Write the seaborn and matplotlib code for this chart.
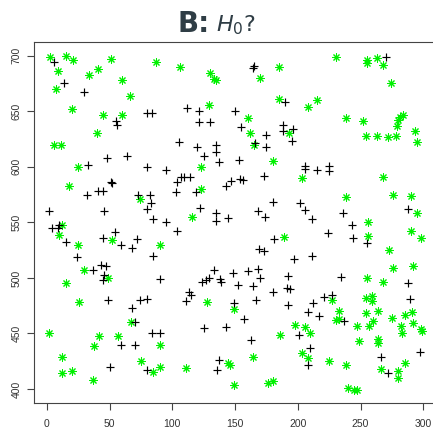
import matplotlib
matplotlib.use("Agg")
import matplotlib.pyplot as plt
import seaborn as sns
import pandas as pd

# black "+" points
black_x = [6, 14, 30, 55, 56, 80, 84, 48, 64, 33, 80, 164, 165, 190, 112, 121, 121, 130, 150, 155,
           188, 188, 196, 175, 195, 166, 175, 105, 120, 135, 135, 125, 137, 153, 270, 95, 51, 52, 32, 41,
           45, 73, 82, 83, 80, 2, 46, 85, 95, 4, 9, 10, 54, 45, 15, 59, 72, 68, 24, 85,
           37, 43, 47, 46, 45, 90, 107, 109, 114, 104, 103, 119, 147, 154, 156, 143, 173, 180, 202, 122,
           135, 135, 144, 168, 174, 104, 181, 169, 173, 197, 133, 148, 160, 168, 192, 129, 138, 170, 206, 206,
           215, 225, 225, 206, 211, 236, 288, 243, 224, 244, 255, 211, 234, 49, 74, 80, 68, 70, 84, 90,
           59, 70, 50, 80, 124, 127, 139, 152, 164, 113, 115, 111, 149, 167, 180, 191, 194, 192, 157, 125,
           143, 163, 201, 137, 136, 288, 221, 227, 212, 208, 217, 237, 289, 210, 208, 266, 272, 297]
black_y = [694, 675, 667, 641, 638, 648, 648, 608, 610, 602, 600, 689, 691, 658, 653, 650, 640, 640, 650, 636,
           638, 632, 634, 629, 623, 621, 618, 622, 618, 620, 613, 610, 604, 606, 699, 597, 586, 585, 575, 578,
           578, 575, 575, 567, 562, 560, 560, 553, 550, 545, 545, 548, 541, 536, 532, 530, 535, 527, 519, 520,
           507, 512, 511, 503, 498, 499, 591, 591, 591, 586, 577, 577, 587, 589, 588, 583, 592, 568, 567, 563,
           558, 551, 554, 560, 555, 542, 535, 526, 524, 517, 507, 504, 506, 508, 502, 500, 499, 500, 601, 598,
           597, 601, 596, 561, 553, 558, 562, 548, 540, 536, 531, 520, 501, 480, 480, 481, 473, 460, 450, 450,
           440, 440, 420, 417, 496, 498, 496, 494, 493, 487, 485, 479, 477, 480, 487, 491, 490, 476, 463, 455,
           456, 444, 449, 426, 417, 495, 483, 485, 477, 469, 466, 461, 481, 437, 422, 429, 414, 433]

# green "*" points
green_x = [3, 15, 21, 9, 51, 41, 34, 87, 7, 60, 66, 20, 45, 60, 40, 6, 11, 25, 106, 130,
           133, 135, 185, 170, 185, 129, 160, 162, 165, 193, 180, 230, 255, 255, 263, 268, 274, 215, 208, 238,
           252, 284, 281, 280, 279, 293, 295, 254, 263, 272, 278, 18, 74, 12, 10, 25, 52, 90, 30, 49,
           123, 123, 116, 189, 203, 268, 238, 276, 290, 295, 256, 256, 290, 298, 273, 276, 292, 255, 15, 26,
           67, 2, 42, 57, 38, 90, 12, 75, 90, 12, 20, 85, 37, 128, 149, 198, 186, 164, 144, 146,
           111, 149, 176, 180, 268, 254, 259, 259, 227, 233, 230, 233, 254, 264, 260, 257, 247, 275, 285, 291,
           292, 282, 283, 298, 299, 206, 210, 264, 264, 249, 203, 208, 225, 238, 266, 285, 280, 280, 240, 245,
           247]
green_y = [699, 700, 696, 686, 697, 688, 683, 694, 670, 678, 664, 652, 647, 647, 630, 620, 620, 600, 690, 684,
           679, 678, 690, 680, 661, 656, 644, 630, 620, 630, 605, 699, 696, 693, 698, 692, 675, 660, 654, 644,
           641, 647, 645, 642, 637, 632, 622, 628, 628, 627, 628, 583, 571, 548, 539, 530, 534, 530, 507, 500,
           600, 580, 555, 537, 590, 591, 573, 575, 574, 558, 550, 538, 542, 536, 525, 509, 511, 500, 495, 478,
           460, 450, 448, 448, 439, 440, 429, 425, 420, 414, 416, 415, 408, 478, 472, 458, 449, 429, 423, 422,
           419, 404, 405, 407, 496, 482, 484, 479, 480, 470, 462, 463, 468, 470, 461, 457, 457, 464, 467, 469,
           459, 457, 450, 454, 452, 456, 450, 445, 441, 443, 432, 428, 425, 422, 418, 423, 416, 410, 401, 399,
           399]

x_ticks = [0, 50, 100, 150, 200, 250, 300]
y_ticks = [400, 450, 500, 550, 600, 650, 700]

sns.set_style("white")
plt.rcParams['font.family'] = ['Liberation Sans', 'DejaVu Sans']

W, H = 433, 429
fig = plt.figure(figsize=(W / 100, H / 100), dpi=100)
ax = fig.add_axes([34.3 / W, 1 - 402.7 / H, (435.7 - 34.3) / W, (402.7 - 41.7) / H])

dfg = pd.DataFrame({"x": green_x, "y": green_y})
dfb = pd.DataFrame({"x": black_x, "y": black_y})

sns.scatterplot(data=dfg, x="x", y="y", ax=ax, marker=(8, 2, 0), color="#00f000",
                s=28, linewidth=0.75, edgecolor="#00f000", legend=False)
sns.scatterplot(data=dfb, x="x", y="y", ax=ax, marker="+", color="black",
                s=40, linewidth=0.85, legend=False)

ax.set_xlim(-9.9, 309.8)
ax.set_ylim(387.7, 712.6)
ax.set_xticks(x_ticks)
ax.set_yticks(y_ticks)
ax.set_xticklabels([str(v) for v in x_ticks])
ax.set_yticklabels([str(v) for v in y_ticks], rotation=90, va="center")
ax.set_xlabel("")
ax.set_ylabel("")
for s in ax.spines.values():
    s.set_color("#444444")
    s.set_linewidth(0.8)
ax.tick_params(axis="both", length=4.8, width=0.8, color="#444444",
               labelsize=7.5, labelcolor="#333333", direction="out")
ax.tick_params(axis="x", pad=7)
ax.tick_params(axis="y", pad=4.5)
ax.xaxis.set_ticks_position("bottom")
ax.yaxis.set_ticks_position("left")

title_color = "#2f3d45"
t1 = fig.text(177 / W, 1 - 31.7 / H, "B:", fontsize=20, fontweight="bold",
              color=title_color, ha="left", va="baseline", family="DejaVu Sans")
fig.canvas.draw()
bb = t1.get_window_extent()
fig.text((bb.x1 + 7) / W, 1 - 31.7 / H, r"$\mathit{H}_{0}$?", fontsize=16,
         color=title_color, ha="left", va="baseline", family="DejaVu Sans")

fig.savefig("out.png", dpi=100)
